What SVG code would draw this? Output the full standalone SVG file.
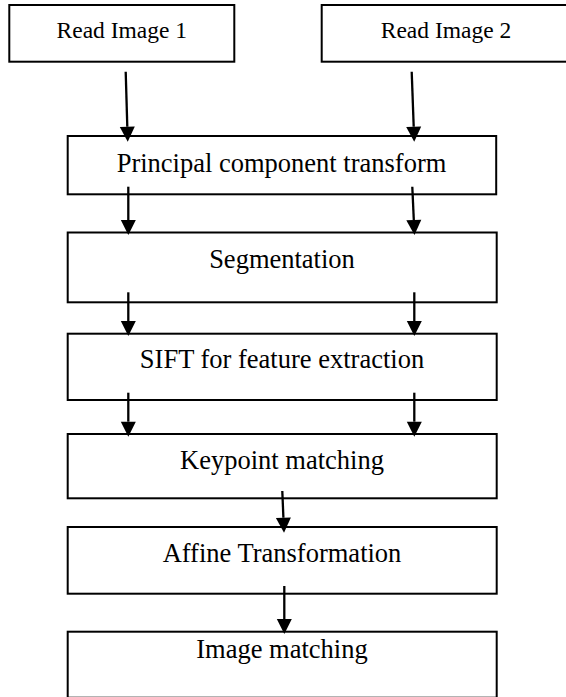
<svg xmlns="http://www.w3.org/2000/svg" width="566" height="697" viewBox="0 0 566 697">
<style>
.box{fill:#fff;stroke:#000;stroke-width:2}
.t{font-family:"Liberation Serif","Times New Roman",serif;font-size:26.5px;fill:#000;text-anchor:middle}
.ts{font-size:23.5px}
.c{stroke:#000;stroke-width:2.3;fill:none}
</style>
<defs>
<marker id="ah" markerUnits="userSpaceOnUse" markerWidth="16" markerHeight="16" viewBox="0 -8 16 16" refX="0" refY="0" orient="auto" overflow="visible">
<path d="M0,-7.5 L15,0 L0,7.5 z" fill="#000"/>
</marker>
</defs>
<rect width="566" height="697" fill="#fff"/>
<g id="read1"><rect class="box" x="9.3" y="5" width="225" height="56.7"/><text class="t ts" x="121.8" y="37.7">Read Image 1</text></g>
<g id="read2"><rect class="box" x="321.7" y="5" width="250" height="56.7"/><text class="t ts" x="446" y="37.7">Read Image 2</text></g>
<g id="pct"><rect class="box" x="67.7" y="136" width="428.5" height="58.3"/><text class="t" x="281.5" y="171.7">Principal component transform</text></g>
<g id="seg"><rect class="box" x="67.7" y="232.5" width="429" height="69.8"/><text class="t" x="282" y="267.7">Segmentation</text></g>
<g id="sift"><rect class="box" x="67.7" y="333.7" width="429" height="66.3"/><text class="t" x="282" y="368.3">SIFT for feature extraction</text></g>
<g id="kp"><rect class="box" x="67.7" y="434" width="429" height="64.3"/><text class="t" x="282" y="469.3">Keypoint matching</text></g>
<g id="affine"><rect class="box" x="67.7" y="527" width="429" height="66.7"/><text class="t" x="282" y="561.7">Affine Transformation</text></g>
<g id="imgmatch"><rect class="box" x="67.7" y="631.7" width="429" height="66"/><text class="t" x="282" y="658.3">Image matching</text></g>
<g id="connectors">
<line class="c" x1="125.7" y1="71.7" x2="127.3" y2="126.7" marker-end="url(#ah)"/>
<line class="c" x1="411.7" y1="71.7" x2="413.7" y2="126.7" marker-end="url(#ah)"/>
<line class="c" x1="128.3" y1="186.7" x2="128.3" y2="220" marker-end="url(#ah)"/>
<line class="c" x1="412.3" y1="186.7" x2="413.8" y2="220" marker-end="url(#ah)"/>
<line class="c" x1="128.3" y1="292.3" x2="128.3" y2="321" marker-end="url(#ah)"/>
<line class="c" x1="414.3" y1="292.3" x2="414.3" y2="321" marker-end="url(#ah)"/>
<line class="c" x1="128.3" y1="392.7" x2="128.3" y2="421.7" marker-end="url(#ah)"/>
<line class="c" x1="414.3" y1="392.7" x2="414.3" y2="421.7" marker-end="url(#ah)"/>
<line class="c" x1="282.3" y1="491" x2="283.4" y2="517.7" marker-end="url(#ah)"/>
<line class="c" x1="284.3" y1="586" x2="284.3" y2="619" marker-end="url(#ah)"/>
</g>
</svg>
